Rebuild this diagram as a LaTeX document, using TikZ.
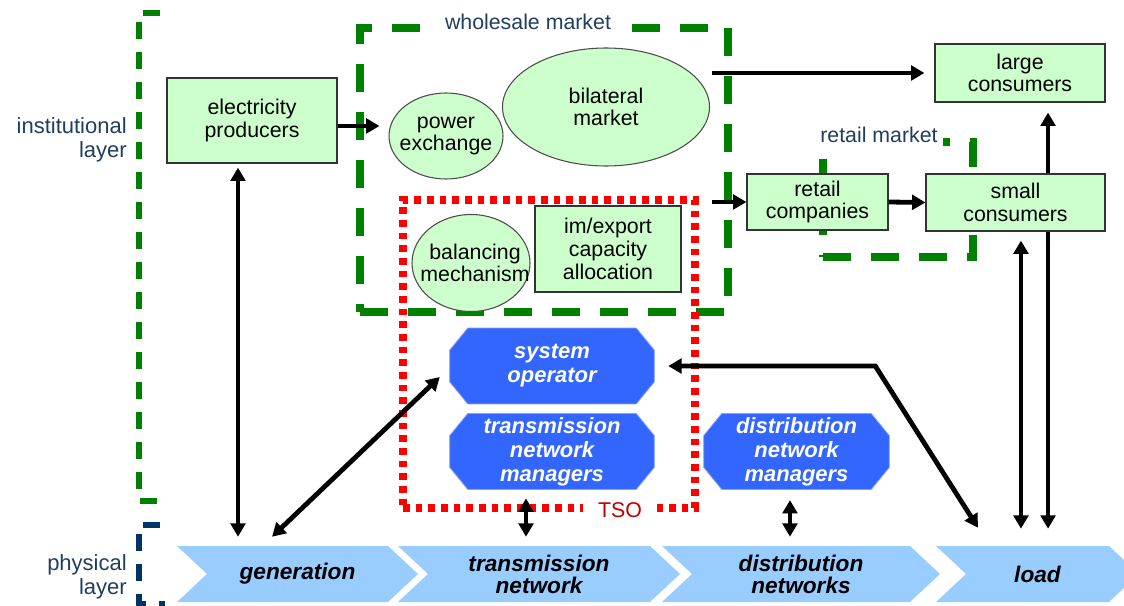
\documentclass[tikz,border=0pt]{standalone}
\usepackage{fontspec}
\setmainfont{Liberation Sans}
\usepackage{xcolor}
\usepackage{tikz}
\usetikzlibrary{arrows.meta,shapes.geometric,shapes.symbols}
\pgfdeclarelayer{bg}
\pgfsetlayers{bg,main}
\definecolor{boxgreen}{HTML}{CCFFCC}
\definecolor{frgreen}{HTML}{008000}
\definecolor{opblue}{HTML}{3366FF}
\definecolor{chevblue}{HTML}{99CCFF}
\definecolor{navy}{HTML}{003366}
\definecolor{lbltext}{HTML}{1F3F5F}
\definecolor{tsored}{HTML}{C00000}
\tikzstyle{arr} = [line width=3.6pt,-{Triangle[length=10pt,width=11pt]}]
\tikzstyle{dbl} = [line width=3.6pt,{Triangle[length=10pt,width=11pt]}-{Triangle[length=10pt,width=11pt]}]
\tikzstyle{actor} = [draw=black!80,fill=boxgreen,line width=0.9pt,align=center,inner sep=0pt,font=\fontsize{16}{17}\selectfont]
\tikzstyle{mkt} = [ellipse,draw=black!70,fill=boxgreen,line width=0.8pt,inner sep=0pt]
\tikzstyle{mtxt} = [align=center,inner sep=0pt,font=\fontsize{16}{17}\selectfont]
\tikzstyle{oper} = [rectangle,text=white,align=center,inner sep=0pt,minimum width=153pt,minimum height=56.5pt,font=\fontsize{16.5}{18}\selectfont\bfseries\itshape]
\tikzstyle{chev} = [signal,signal from=west,signal to=east,signal pointer angle=86,fill=chevblue,align=center,inner sep=0pt,minimum height=42pt,font=\fontsize{17}{16.5}\selectfont\bfseries\itshape]
\tikzstyle{frame} = [draw=frgreen,line width=6pt,dash pattern=on 21pt off 15pt,inner sep=0pt]
\tikzstyle{tsoframe} = [draw=red,line width=5.5pt,dash pattern=on 5pt off 4.5pt,inner sep=0pt]
\tikzstyle{frlabel} = [fill=white,text=lbltext,inner sep=2pt,font=\fontsize{16}{17}\selectfont]
\tikzstyle{layer} = [text=lbltext,align=right,anchor=east,inner sep=0pt,font=\fontsize{16.5}{18}\selectfont]
\tikzstyle{bracket} = [line width=5pt,dash pattern=on 12.75pt off 9.75pt]

\begin{document}
\begin{tikzpicture}[x=0.75pt,y=-0.75pt]
            \useasboundingbox (0,0) rectangle (1124,606);
            % institutional layer
            \node[actor,minimum width=127.5pt,minimum height=63.75pt] (prod) at (252,120.5) {electricity\\producers};
            \node[mkt,minimum width=85.5pt,minimum height=64.5pt] (pex) at (446,136) {};
            \node[mtxt] at (pex) {power\\exchange};
            \node[mkt,minimum width=155.25pt,minimum height=88.5pt] (bil) at (606,107) {};
            \node[mtxt] at (bil) {bilateral\\market};
            \node[mkt,minimum width=88.5pt,minimum height=72.75pt] (bal) at (471,263) {};
            \node[mtxt] at ([xshift=3pt]bal) {balancing\\mechanism};
            \node[actor,minimum width=109.5pt,minimum height=64.5pt] (imex) at (608,249) {im/export\\capacity\\allocation};
            \node[actor,minimum width=127.5pt,minimum height=43.5pt] (lc) at (1020,73) {large\\consumers};
            \node[actor,minimum width=105.75pt,minimum height=42pt] (rc) at (817.5,202) {retail\\companies};
            \node[actor,minimum width=134.25pt,minimum height=42.75pt] (sc) at (1015.5,202.5) {small\\consumers};
            \node[oper] (so) at (552,366) {system\\operator};
            \node[oper] (tnm) at (552,451.5) {transmission\\network\\managers};
            \node[oper,minimum width=138.75pt] (dnm) at (796.5,451.5) {distribution\\network\\managers};
            % physical layer
            \node[chev,minimum width=180.75pt] (gen) at (297.5,574) {generation};
            \node[chev,minimum width=211.5pt] (trans) at (539,574) {transmission\\network};
            \node[chev,minimum width=208.5pt] (dist) at (801,574) {distribution\\networks};
            \node[chev,minimum width=152.25pt] (load) at (1037.5,574) {load};
            \node[layer] (inst) at (127,140) {institutional\\layer};
            \node[layer] (phys) at (127,577) {physical\\layer};
            % markets, brackets and operator shapes
            \begin{pgfonlayer}{bg}
            \draw[bracket,frgreen] (160,13) -- (139,13) -- (139,501) -- (166,501);
            \draw[bracket,navy] (160,525) -- (139,525) -- (139,604) -- (165,604);
            \node[frame,minimum width=276pt,minimum height=213pt] (ws) at (544,170) {};
            \node[frame,minimum width=112.5pt,minimum height=86.25pt] (rm) at (898,199.5) {};
            \node[tsoframe,minimum width=219pt,minimum height=231pt] (tso) at (549,354) {};
            \node[frlabel,inner xsep=8pt] at (528,22) {wholesale market};
            \node[frlabel,inner ysep=5pt,inner xsep=4pt] at (879,135) {retail market};
            \node[frlabel,text=tsored,inner xsep=11pt] at (620,510) {TSO};
            \foreach \n in {so,tnm,dnm}
              \filldraw[fill=opblue,draw=opblue!60,line width=0.6pt] ([xshift=13.5pt]\n.north west) -- ([xshift=-13.5pt]\n.north east)
                -- ([yshift=-16.5pt]\n.north east) -- ([yshift=16.5pt]\n.south east) -- ([xshift=-13.5pt]\n.south east)
                -- ([xshift=13.5pt]\n.south west) -- ([yshift=16.5pt]\n.south west) -- ([yshift=-16.5pt]\n.north west) -- cycle;
            \draw[dbl,shorten <=7.5pt] ([xshift=7.9pt]load.north |- lc.south) -- ([xshift=7.9pt,yshift=12.75pt]load.north);
            \end{pgfonlayer}
            % flows
            \draw[arr,shorten >=6.75pt] ([yshift=-4.1pt]prod.east) -- ([yshift=-4.1pt]prod.east -| pex.west);
            \draw[arr,shorten >=7.5pt] ([xshift=-15pt]ws.east |- lc.west) -- (lc.west);
            \draw[arr] ([xshift=-15pt]ws.east |- rc.west) -- (rc.west);
            \draw[arr] (rc.east) -- (sc.west);
            \draw[dbl,shorten <=6.75pt] ([xshift=-12.4pt]load.north |- sc.south) -- ([xshift=-12.4pt,yshift=12.75pt]load.north);
            \draw[dbl] ([xshift=-44.6pt,yshift=13.5pt]load.north) -- ([xshift=165.75pt]so.east) -- ([xshift=10.5pt]so.east);
            \draw[dbl] ([xshift=-19.1pt,yshift=6.75pt]gen.north) -- ([xshift=-7.5pt,yshift=-8.25pt]so.west);
            \draw[dbl,shorten <=3pt] ([xshift=-10.5pt]prod.south) -- ([xshift=-10.5pt,yshift=6.75pt]prod.south |- gen.north);
            \draw[dbl,shorten <=6.75pt] ([xshift=-19.5pt]tnm.south) -- ([xshift=-19.5pt,yshift=6.75pt]tnm.south |- trans.north);
            \draw[dbl,shorten <=8pt] ([xshift=-4.9pt]dnm.south) -- ([xshift=-4.9pt,yshift=6.75pt]dnm.south |- dist.north);
        \end{tikzpicture}
\end{document}
